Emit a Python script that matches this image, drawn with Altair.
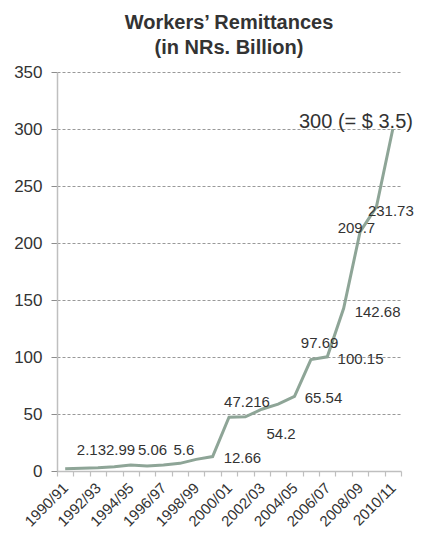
import altair as alt
import pandas as pd

years = ["1990/91", "1991/92", "1992/93", "1993/94", "1994/95", "1995/96", "1996/97",
         "1997/98", "1998/99", "1999/00", "2000/01", "2001/02", "2002/03", "2003/04",
         "2004/05", "2005/06", "2006/07", "2007/08", "2008/09", "2009/10", "2010/11"]
remit = [2.0, 2.5, 2.9, 3.8, 5.3, 4.4, 5.3, 6.7, 10.2, 12.66, 47.216, 47.5, 54.2, 58.6,
         65.54, 97.69, 100.15, 142.68, 209.7, 231.73, 300]

# data labels as placed in the original (category index, value units)
label_text = ["2.13", "2.99", "5.06", "5.6", "12.66", "47.216", "54.2", "65.54",
              "97.69", "100.15", "142.68", "209.7", "231.73"]
label_idx = [1.6, 3.38, 5.33, 7.25, 10.82, 11.1, 13.18, 15.77, 15.53, 18.03, 19.07, 17.78, 19.88]
label_val = [18.4, 18.4, 18.4, 18.4, 11.0, 60.5, 32.4, 64.0, 112.3, 98.2, 139.9, 213.1, 228.5]

head_text = ["300 (= $ 3.5)"]
head_idx = [17.75]
head_val = [306]

df = pd.DataFrame({"year": years, "value": remit})
lab = pd.DataFrame({"t": label_text, "i": label_idx, "v": label_val})
head = pd.DataFrame({"t": head_text, "i": head_idx, "v": head_val})

FONT = "Liberation Sans"
TXT = "#333333"

yscale = alt.Scale(domain=[0, 350], nice=False)

line = alt.Chart(df).mark_line(color="#8ea597", strokeWidth=3).encode(
    x=alt.X("year:O", sort=years,
            scale=alt.Scale(type="band", paddingInner=0, paddingOuter=0),
            axis=alt.Axis(title=None, labelAngle=-45, labelAlign="right", labelBaseline="middle",
                          tickBand="extent", tickSize=5, labelPadding=9,
                          labelFontSize=15, labelFont=FONT, labelColor=TXT,
                          domainColor="#bfbfbf", domainWidth=1.5, tickColor="#bfbfbf",
                          tickWidth=1.2, grid=False,
                          labelExpr="parseInt(substring(datum.value,0,4)) % 2 == 0 ? datum.value : ''")),
    y=alt.Y("value:Q", scale=yscale,
            axis=alt.Axis(title=None, values=list(range(0, 351, 50)), tickSize=6, labelPadding=9,
                          labelFontSize=17, labelFont=FONT, labelColor=TXT,
                          domainColor="#bfbfbf", domainWidth=1.5, tickColor="#8c8c8c",
                          grid=True, gridColor="#7f7f7f", gridDash=[3, 2], gridWidth=0.8)),
)

xlin = alt.Scale(domain=[-0.5, 20.5], nice=False, zero=False)

labels = alt.Chart(lab).mark_text(font=FONT, fontSize=15, color=TXT, align="center",
                                  baseline="middle").encode(
    x=alt.X("i:Q", scale=xlin, axis=None),
    y=alt.Y("v:Q", scale=yscale),
    text="t:N",
)

headline = alt.Chart(head).mark_text(font=FONT, fontSize=20, color=TXT, align="center",
                                     baseline="middle").encode(
    x=alt.X("i:Q", scale=xlin, axis=None),
    y=alt.Y("v:Q", scale=yscale),
    text="t:N",
)

chart = alt.layer(line, labels, headline).resolve_scale(x="independent").properties(
    width=344, height=399,
    padding={"left": 5, "top": 5, "right": 0, "bottom": 0},
    title=alt.TitleParams(text=["Workers’ Remittances", "(in NRs. Billion)"],
                          font=FONT, fontSize=20, fontWeight="bold", color=TXT,
                          anchor="middle", lineHeight=25, offset=5),
).configure_view(stroke=None)

chart.save("out.html", embed_options={"renderer": "svg", "actions": False})
